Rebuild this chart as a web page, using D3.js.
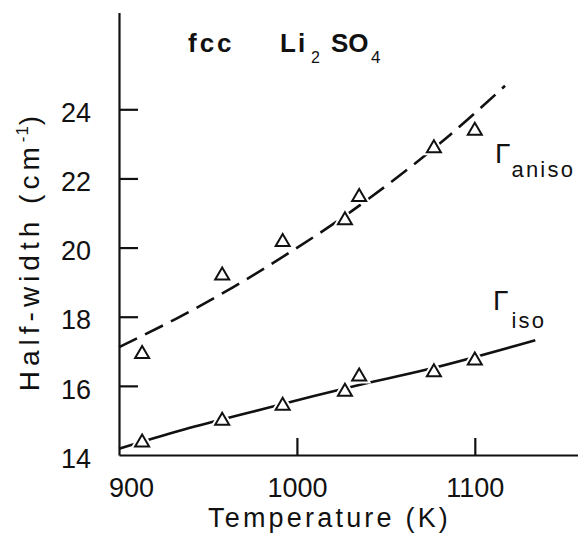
<!DOCTYPE html>
<html lang="en">
<head>
  <meta charset="UTF-8">
  <title>Half-width vs Temperature</title>
  <script src="https://cdnjs.cloudflare.com/ajax/libs/d3/7.6.1/d3.min.js"></script>
  <style>
    body { margin: 0; background: #fff; }
    text { font-family: "Liberation Sans", Arial, sans-serif; fill: #111; }
    .axis path, .axis line { stroke: #111; stroke-width: 2.2px; }
    .axis text { font-size: 27px; font-family: "Liberation Sans", Arial, sans-serif; fill: #111; }
    .fit { fill: none; stroke: #111; stroke-width: 2.6px; }
    .halo { fill: #fff; stroke: #fff; stroke-width: 6px; }
    .point { fill: #fff; stroke: #111; stroke-width: 2px; }
  </style>
</head>
<body>
<div id="wrapper"></div>
<script>
// measured points (same temperatures for both widths)
const temperature = [913, 958, 992, 1027, 1035, 1077, 1100];
const gammaAniso = [16.98, 19.25, 20.22, 20.85, 21.52, 22.93, 23.44];
const gammaIso = [14.42, 15.05, 15.48, 15.89, 16.33, 16.45, 16.79];

// fitted curves
const anisoFitT = [900, 932, 964, 996, 1026, 1052, 1084, 1117];
const anisoFit = [17.12, 17.94, 18.85, 19.86, 20.88, 21.86, 23.17, 24.68];
const isoFitT = [900, 934, 975, 1009, 1032, 1073, 1134];
const isoFit = [14.18, 14.70, 15.25, 15.70, 15.99, 16.47, 17.32];

const xTicks = [900, 1000, 1100];
const yTicks = [14, 16, 18, 20, 22, 24];

var dimension = {
    width: 578,
    height: 533,
    margin: { top: 12.5, right: 0, bottom: 78, left: 119 }
};
dimension.boundedWidth = dimension.width - dimension.margin.left - dimension.margin.right;
dimension.boundedHeight = dimension.height - dimension.margin.top - dimension.margin.bottom;

const svg = d3.select("#wrapper")
    .append("svg")
    .attr("width", dimension.width)
    .attr("height", dimension.height);

const bounds = svg.append("g")
    .attr("transform", `translate(${dimension.margin.left},${dimension.margin.top})`);

const x = d3.scaleLinear().domain([900, 1158]).range([0, dimension.boundedWidth]);
const y = d3.scaleLinear().domain([14, 26.8]).range([dimension.boundedHeight, 0]);

// axes, ticks pointing inward
const xAxis = bounds.append("g")
    .attr("class", "axis")
    .attr("transform", `translate(0,${dimension.boundedHeight})`)
    .call(d3.axisBottom(x).tickValues(xTicks).tickFormat(d3.format("d"))
        .tickSizeInner(-17).tickSizeOuter(0).tickPadding(23));
xAxis.selectAll(".tick text").attr("dx", d => d === 900 ? 12 : 0);

const yAxis = bounds.append("g")
    .attr("class", "axis")
    .call(d3.axisLeft(y).tickValues(yTicks).tickFormat(d3.format("d"))
        .tickSizeInner(-19).tickSizeOuter(0).tickPadding(28));
yAxis.selectAll(".tick text").attr("dy", "0.45em");
yAxis.selectAll(".tick line").filter(d => d === 14).remove();
xAxis.selectAll(".tick line").filter(d => d === 900).remove();

// fitted lines
const line = d3.line().x(d => x(d[0])).y(d => y(d[1])).curve(d3.curveMonotoneX);

bounds.append("path")
    .attr("class", "fit")
    .attr("d", line(d3.zip(anisoFitT, anisoFit)))
    .attr("stroke-dasharray", "20,9");

bounds.append("path")
    .attr("class", "fit")
    .attr("d", line(d3.zip(isoFitT, isoFit)));

// open triangles
const triangle = {
    draw(ctx) {
        ctx.moveTo(0, -6);
        ctx.lineTo(7, 6);
        ctx.lineTo(-7, 6);
        ctx.closePath();
    }
};
const sym = d3.symbol().type(triangle);
const points = d3.zip(temperature, gammaAniso).concat(d3.zip(temperature, gammaIso));

bounds.selectAll("path.halo")
    .data(points)
    .enter()
    .append("path")
    .attr("class", "halo")
    .attr("d", sym)
    .attr("transform", d => `translate(${x(d[0])},${y(d[1])})`);

bounds.selectAll("path.point")
    .data(points)
    .enter()
    .append("path")
    .attr("class", "point")
    .attr("d", sym)
    .attr("transform", d => `translate(${x(d[0])},${y(d[1])})`);

// axis titles
svg.append("text")
    .attr("x", 208)
    .attr("y", 527)
    .style("font-size", "27px")
    .style("letter-spacing", "3.2px")
    .text("Temperature (K)");

const yTitle = svg.append("text")
    .attr("transform", "translate(39,251) rotate(-90)")
    .attr("text-anchor", "middle")
    .style("font-size", "28px")
    .style("letter-spacing", "5px");
yTitle.append("tspan").text("Half-width (cm");
yTitle.append("tspan").attr("dy", -11).style("font-size", "17px").style("letter-spacing", "1px").text("-1");
yTitle.append("tspan").attr("dy", 11).text(")");

// title
const title = svg.append("g").style("font-weight", "bold").style("font-size", "26px");
title.append("text").attr("x", 188).attr("y", 52).style("letter-spacing", "3px").text("fcc");
title.append("text").attr("x", 280).attr("y", 52).style("letter-spacing", "2px").text("Li");
title.append("text").attr("x", 311).attr("y", 63).style("font-size", "16px").style("font-weight", "normal").text("2");
title.append("text").attr("x", 331).attr("y", 52).text("SO");
title.append("text").attr("x", 371).attr("y", 63).style("font-size", "17px").style("font-weight", "normal").text("4");

// curve labels
const labels = [
    { x: 495, y: 163, sub: "aniso", subY: 177 },
    { x: 493, y: 310, sub: "iso", subY: 328 }
];
labels.forEach(l => {
    svg.append("text").attr("x", l.x).attr("y", l.y).style("font-size", "28px").text("Γ");
    svg.append("text").attr("x", 511.5).attr("y", l.subY)
        .style("font-size", "22px").style("letter-spacing", "2.2px").text(l.sub);
});
</script>
</body>
</html>
